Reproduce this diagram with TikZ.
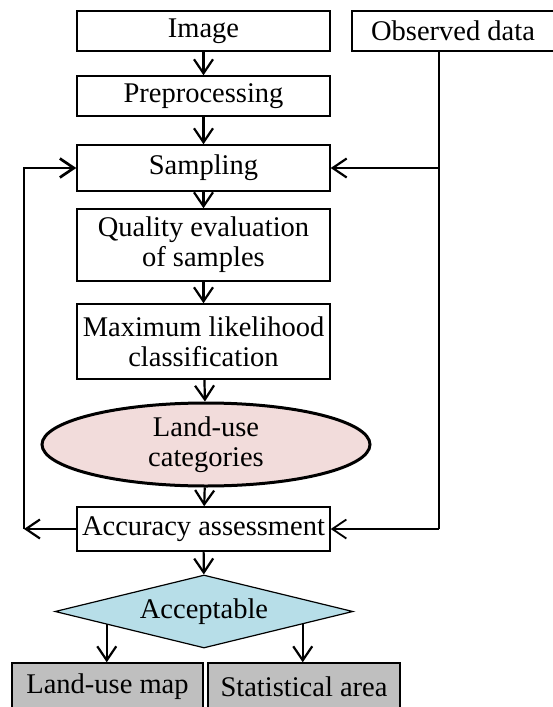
\documentclass[tikz,border=0pt]{standalone}
\usepackage{fontspec}
\setmainfont{Liberation Serif}
\definecolor{lupink}{RGB}{242,220,219}
\definecolor{decblue}{RGB}{183,222,232}
\definecolor{outgray}{RGB}{191,191,191}
\usetikzlibrary{arrows.meta,positioning,shapes.geometric,calc}

\begin{document}
\begin{tikzpicture}[
  x=1pt,y=-1pt,
  every node/.style={font=\fontsize{28.5}{30}\selectfont},
  stepbox/.style={draw,line width=1.5pt,rectangle,align=center,inner sep=0pt,minimum width=253pt},
  outbox/.style={draw,line width=1.5pt,rectangle,fill=outgray,inner sep=0pt,minimum height=48pt},
  arr/.style={line width=2.2pt,-{Straight Barb[length=14pt,width=19pt]}},
]
  \useasboundingbox (0,0) rectangle (553,707);

  % Inputs
  \node[stepbox,minimum height=40pt] (img) at (203.5,31) {Image};
  \node[stepbox,minimum width=202pt,minimum height=40pt] (obs) at (453,31) {Observed data};

  % Main chain
  \node[stepbox,minimum height=40pt] (pre) at (203.5,96) {Preprocessing};
  \node[stepbox,minimum height=46pt] (samp) at (203.5,168) {Sampling};
  \node[stepbox,minimum height=72pt] (qual) at (203.5,245) {Quality evaluation\\of samples};
  \node[stepbox,minimum height=75pt] (mlc) at (203.5,341.5) {Maximum likelihood\\classification};
  \node[draw,ellipse,line width=3pt,fill=lupink,align=center,inner sep=0pt,
        minimum width=328pt,minimum height=83pt] (luc) at (206,444.5) {Land-use\\categories};
  \node[stepbox,minimum height=44pt] (acc) at (203.5,529) {Accuracy assessment};
  \node[draw,diamond,aspect=4,line width=1.2pt,fill=decblue,inner sep=0pt,
        minimum width=298pt,minimum height=73pt] (dec) at (204,611.5) {Acceptable};

  % Outputs
  \node[outbox,minimum width=191pt] (lmap) at (107.5,687) {Land-use map};
  \node[outbox,minimum width=192pt] (stat) at (304,687) {Statistical area};

  \draw[arr] (img) -- (pre);
  \draw[arr] (pre) -- (samp);
  \draw[arr] (samp) -- (qual);
  \draw[arr] (qual) -- (mlc);
  \draw[arr] (mlc) -- (luc);
  \draw[arr] (luc) -- (acc);
  \draw[arr] (acc) -- (dec);

  \coordinate (lfoot) at ($(dec.west)!0.35!(dec.south)$);
  \coordinate (sfoot) at ($(dec.east)!0.34!(dec.south)$);
  \draw[arr] (lfoot) -- (lfoot |- lmap.north);
  \draw[arr] (sfoot) -- (sfoot |- stat.north);

  % Observed data feeds sampling and assessment
  \coordinate (obsfoot) at (439,51);
  \draw[line width=1.6pt] (obsfoot) -- (obsfoot |- acc.east);
  \draw[arr,line width=1.8pt] (obsfoot |- acc.east) -- (acc.east);
  \draw[arr] (obsfoot |- samp.east) -- (samp.east);

  % Feedback loop
  \coordinate (fbl) at (24,529);
  \draw[arr] (acc.west) -- (fbl);
  \draw[arr,line width=2.7pt] (fbl) |- (samp.west);
\end{tikzpicture}
\end{document}
